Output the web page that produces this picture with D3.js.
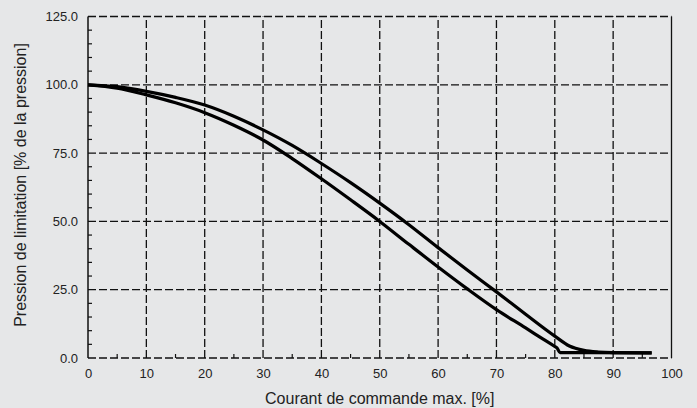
<!DOCTYPE html>
<html>
<head>
<meta charset="utf-8">
<script src="https://cdn.jsdelivr.net/npm/d3@7"></script>
<style>
  body { margin: 0; background: #e6e7e8; }
  svg { display: block; font-family: "Liberation Sans", Arial, sans-serif; }
</style>
</head>
<body>
<svg id="chart" width="697" height="408"></svg>
<script>
// Data
const upperX = [0, 5, 10, 15, 20, 25, 30, 35, 40, 45, 50, 55, 60, 65, 70, 75, 80, 82.5, 85, 87.5, 90, 96.6];
const upperY = [100, 99.3, 97.6, 95.4, 92.6, 88.5, 83.5, 77.8, 71.2, 64.2, 56.7, 48.8, 40.4, 32.2, 24.2, 16.0, 8.0, 4.4, 2.8, 2.2, 2.0, 1.9];

const lowerX = [0, 5, 10, 15, 20, 25, 30, 35, 40, 45, 50, 55, 60, 65, 70, 75, 78, 80, 80.4, 80.9, 96.6];
const lowerY = [100, 98.8, 96.3, 93.4, 89.8, 85.2, 79.8, 73.0, 65.6, 57.9, 50.0, 41.6, 33.3, 25.3, 17.7, 11.0, 6.9, 4.2, 3.6, 2.0, 1.9];

const xTicks = [0, 10, 20, 30, 40, 50, 60, 70, 80, 90, 100];
const yTicks = [0, 25, 50, 75, 100, 125];
const xMinor = d3.range(5, 100, 10);
const yMinor = d3.range(5, 125, 5).filter(v => v % 25 !== 0);

const xTitle = "Courant de commande max. [%]";
const yTitle = "Pression de limitation [% de la pression]";

// Layout
const margin = { left: 88, top: 16.5, right: 25.5, bottom: 50 };
const width = 697, height = 408;

const svg = d3.select("#chart");

const x = d3.scaleLinear().domain([0, 100]).range([margin.left, width - margin.right]);
const y = d3.scaleLinear().domain([0, 125]).range([height - margin.bottom, margin.top]);

// grid (dashed)
const grid = svg.append("g")
    .attr("stroke", "#111")
    .attr("stroke-width", 1.3)
    .attr("stroke-dasharray", "8,3");

grid.selectAll("line.v")
    .data(xTicks.filter(d => d > 0 && d < 100))
    .enter().append("line")
    .attr("x1", d => x(d)).attr("x2", d => x(d))
    .attr("y1", y(0)).attr("y2", y(125));

grid.selectAll("line.h")
    .data(yTicks)
    .enter().append("line")
    .attr("x1", x(0)).attr("x2", x(100))
    .attr("y1", d => y(d)).attr("y2", d => y(d));

// solid left and right frame
svg.append("line")
    .attr("x1", x(0)).attr("x2", x(0))
    .attr("y1", y(0)).attr("y2", y(125))
    .attr("stroke", "#111").attr("stroke-width", 1.5);
svg.append("line")
    .attr("x1", x(100)).attr("x2", x(100))
    .attr("y1", y(0)).attr("y2", y(125))
    .attr("stroke", "#111").attr("stroke-width", 1.3);

// minor ticks (inward)
svg.append("g").selectAll("line")
    .data(xMinor)
    .enter().append("line")
    .attr("x1", d => x(d)).attr("x2", d => x(d))
    .attr("y1", y(0)).attr("y2", y(0) - 4)
    .attr("stroke", "#111").attr("stroke-width", 1.2);

svg.append("g").selectAll("line")
    .data(yMinor)
    .enter().append("line")
    .attr("x1", x(0)).attr("x2", x(0) + 4)
    .attr("y1", d => y(d)).attr("y2", d => y(d))
    .attr("stroke", "#111").attr("stroke-width", 1.2);

// axes labels via d3 axes
const xAxis = d3.axisBottom(x).tickValues(xTicks).tickSize(0).tickPadding(11);
svg.append("g")
    .attr("transform", `translate(0,${y(0)})`)
    .call(xAxis)
    .call(g => g.select(".domain").remove())
    .selectAll("text")
    .attr("font-size", 13)
    .attr("fill", "#222")
    .attr("font-family", "Liberation Sans, Arial, sans-serif");

const yAxis = d3.axisLeft(y).tickValues(yTicks).tickFormat(d3.format(".1f")).tickSize(0).tickPadding(10);
svg.append("g")
    .attr("transform", `translate(${x(0)},0)`)
    .call(yAxis)
    .call(g => g.select(".domain").remove())
    .selectAll("text")
    .attr("font-size", 13)
    .attr("fill", "#222")
    .attr("font-family", "Liberation Sans, Arial, sans-serif");

// curves
const line = d3.line()
    .x(d => x(d[0]))
    .y(d => y(d[1]))
    .curve(d3.curveMonotoneX);

const series = [
    d3.zip(upperX, upperY),
    d3.zip(lowerX, lowerY)
];

svg.append("g").selectAll("path")
    .data(series)
    .enter().append("path")
    .attr("d", line)
    .attr("fill", "none")
    .attr("stroke", "#000")
    .attr("stroke-width", 3.2)
    .attr("stroke-linejoin", "round");

// titles
svg.append("text")
    .attr("x", (x(0) + x(100)) / 2)
    .attr("y", 404)
    .attr("text-anchor", "middle")
    .attr("font-size", 16)
    .attr("fill", "#222")
    .text(xTitle);

svg.append("text")
    .attr("transform", `translate(26,185) rotate(-90)`)
    .attr("text-anchor", "middle")
    .attr("font-size", 16)
    .attr("fill", "#222")
    .text(yTitle);
</script>
</body>
</html>
